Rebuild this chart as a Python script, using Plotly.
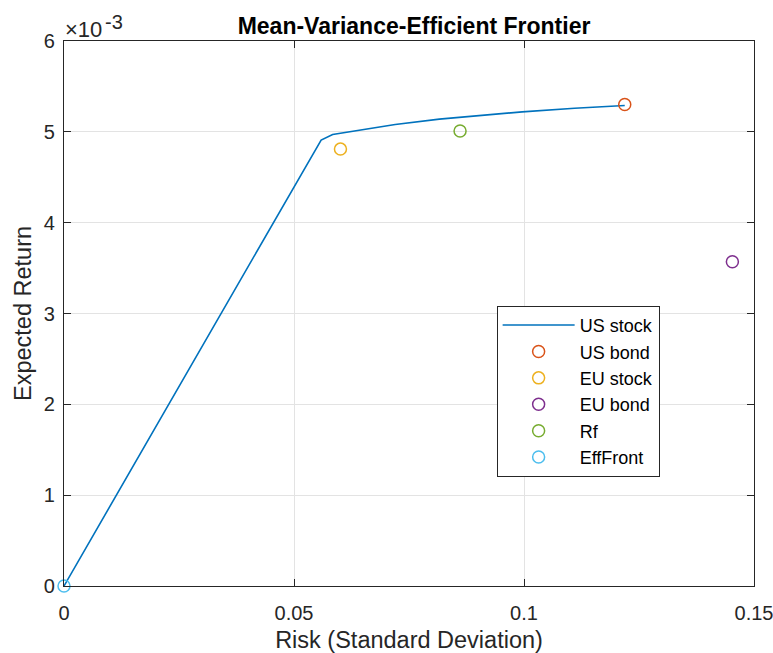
import plotly.graph_objects as go

# Efficient frontier curve (risk, expected return)
frontier_risk = [0.0, 0.0559, 0.0584, 0.0642, 0.0720, 0.0816, 0.0910, 0.0996, 0.1110, 0.1219]
frontier_ret = [0.0, 0.00491, 0.00497, 0.00502, 0.00508, 0.00514, 0.00518, 0.00522, 0.00526, 0.00529]

# Individual assets / points
point_names = ["US bond", "EU stock", "EU bond", "Rf", "EffFront"]
point_risk = [0.1219, 0.0601, 0.1453, 0.0861, 0.0]
point_ret = [0.00530, 0.00481, 0.00357, 0.00501, 0.0]
point_colors = ["#D95319", "#EDB120", "#7E2F8E", "#77AC30", "#4DBEEE"]

line_name = "US stock"
line_color = "#0072BD"

x_ticks = [0, 0.05, 0.1, 0.15]
x_ticktext = ["0", "0.05", "0.1", "0.15"]
y_ticks = [0, 0.001, 0.002, 0.003, 0.004, 0.005, 0.006]
y_ticktext = ["0", "1", "2", "3", "4", "5", "6"]

FONT = "Liberation Sans, Arial, Helvetica, sans-serif"
AXIS_COLOR = "#262626"
GRID_COLOR = "#e3e3e3"

fig = go.Figure()
fig.add_trace(go.Scatter(
    x=frontier_risk, y=frontier_ret, mode="lines", name=line_name,
    line=dict(color=line_color, width=1.6),
))
for name, xr, yr, c in zip(point_names, point_risk, point_ret, point_colors):
    fig.add_trace(go.Scatter(
        x=[xr], y=[yr], mode="markers", name=name, cliponaxis=False,
        marker=dict(symbol="circle-open", size=12, color=c, line=dict(width=1.5, color=c)),
    ))

axis_common = dict(
    showline=True, linecolor=AXIS_COLOR, linewidth=1.2, mirror="ticks",
    ticks="inside", ticklen=7, tickwidth=1.2, tickcolor=AXIS_COLOR,
    showgrid=True, gridcolor=GRID_COLOR, gridwidth=1, zeroline=False,
    tickfont=dict(family=FONT, size=20, color=AXIS_COLOR),
    ticklabeloverflow="allow", automargin=False,
)

fig.update_xaxes(
    range=[0, 0.15], tickvals=x_ticks, ticktext=x_ticktext,
    title=dict(text="Risk (Standard Deviation)", font=dict(family=FONT, size=23.5, color=AXIS_COLOR), standoff=12),
    ticklabelstandoff=9, **axis_common,
)
fig.update_yaxes(
    range=[0, 0.006], tickvals=y_ticks, ticktext=y_ticktext,
    title=dict(text="Expected Return", font=dict(family=FONT, size=23.5, color=AXIS_COLOR), standoff=5),
    ticklabelstandoff=4, **axis_common,
)

# Axis exponent multiplier above the y axis
fig.add_annotation(
    text="×10", xref="paper", yref="paper", x=0, y=1,
    xanchor="left", yanchor="bottom", showarrow=False, xshift=-1, yshift=-3,
    font=dict(family=FONT, size=22, color=AXIS_COLOR),
)
fig.add_annotation(
    text="-3", xref="paper", yref="paper", x=0, y=1,
    xanchor="left", yanchor="bottom", showarrow=False, xshift=39, yshift=6,
    font=dict(family=FONT, size=20, color=AXIS_COLOR),
)

fig.update_layout(
    width=773, height=653,
    margin=dict(l=64, r=19, t=41, b=67),
    paper_bgcolor="white", plot_bgcolor="white",
    title=dict(text="<b>Mean-Variance-Efficient Frontier</b>", x=0.5356, xanchor="center",
               y=0.961, yanchor="middle", font=dict(family=FONT, size=23, color="black")),
    legend=dict(
        x=0.627, y=0.514, xanchor="left", yanchor="top",
        bgcolor="white", bordercolor=AXIS_COLOR, borderwidth=1,
        font=dict(family=FONT, size=18, color="black"), itemwidth=72,
    ),
    showlegend=True,
)

fig.write_html("out.html")
